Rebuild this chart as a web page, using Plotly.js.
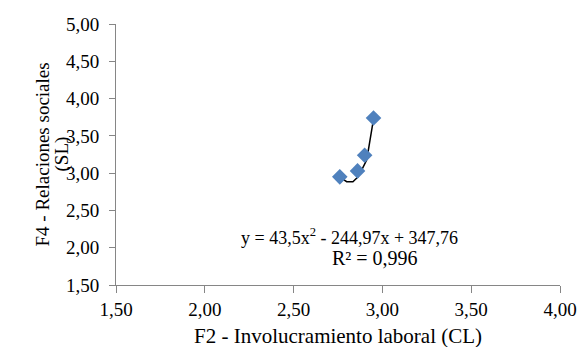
<!DOCTYPE html>
<html>
<head>
<meta charset="utf-8">
<script src="https://cdn.plot.ly/plotly-3.0.1.min.js"></script>
<style>html,body{margin:0;padding:0;background:#fff;}#chart{width:579px;height:347px;}</style>
</head>
<body>
<div id="chart"></div>
<script>
// Data points
var xValues = [2.76, 2.86, 2.90, 2.95];
var yValues = [2.95, 3.03, 3.24, 3.74];
// Polynomial trendline as drawn
var trendX = [2.771, 2.799, 2.834, 2.863, 2.883, 2.912, 2.930, 2.949];
var trendY = [2.93, 2.885, 2.885, 2.95, 3.04, 3.18, 3.44, 3.71];
var xTickVals = [1.5, 2.0, 2.5, 3.0, 3.5, 4.0];
var yTickVals = [1.5, 2.0, 2.5, 3.0, 3.5, 4.0, 4.5, 5.0];
var xTitle = "F2 - Involucramiento laboral (CL)";
var yTitleLines = ["F4 - Relaciones sociales", "(SL)"];
var eqText = "y = 43,5x<sup>2</sup> - 244,97x + 347,76";
var r2Text = "R² = 0,996";

var font = "Liberation Serif, Times New Roman, serif";
var axisColor = "#868686";
var tickSize = 19, xTitleSize = 21, yTitleSize = 19, eqSize = 18, r2Size = 20;

var traces = [
  {x: trendX, y: trendY, mode: "lines", type: "scatter",
   line: {color: "#000000", width: 1.5}, hoverinfo: "skip"},
  {x: xValues, y: yValues, mode: "markers", type: "scatter",
   marker: {symbol: "diamond", size: 12, color: "#4F81BD", line: {width: 0}}}
];

var layout = {
  width: 579, height: 347,
  margin: {l: 116, r: 19, t: 24, b: 62},
  paper_bgcolor: "#ffffff", plot_bgcolor: "#ffffff",
  showlegend: false,
  separators: ",.",
  font: {family: font, size: tickSize, color: "#000000"},
  xaxis: {
    range: [1.5, 4.0], tickvals: xTickVals, tickformat: ".2f",
    showgrid: false, zeroline: false, showline: true, linecolor: axisColor, linewidth: 1,
    ticks: "outside", ticklen: 7, tickcolor: axisColor, tickwidth: 1,
    ticklabelstandoff: 0,
    tickfont: {family: font, size: tickSize, color: "#000"}
  },
  yaxis: {
    range: [1.5, 5.0], tickvals: yTickVals, tickformat: ".2f",
    showgrid: false, zeroline: false, showline: true, linecolor: axisColor, linewidth: 1,
    ticks: "outside", ticklen: 6, tickcolor: axisColor, tickwidth: 1,
    ticklabelstandoff: 6,
    tickfont: {family: font, size: tickSize, color: "#000"}
  },
  annotations: [
    {xref: "paper", yref: "paper", x: 0.5, y: (285 - 336) / 261, xanchor: "center", yanchor: "middle",
     text: xTitle, showarrow: false, font: {family: font, size: xTitleSize, color: "#000"}},
    {xref: "paper", yref: "paper", x: (42 - 116) / 444, y: 0.5, xanchor: "center", yanchor: "middle",
     text: yTitleLines[0], textangle: -90, showarrow: false,
     font: {family: font, size: yTitleSize, color: "#000"}},
    {xref: "paper", yref: "paper", x: (61 - 116) / 444, y: 0.5, xanchor: "center", yanchor: "middle",
     text: yTitleLines[1], textangle: -90, showarrow: false,
     font: {family: font, size: yTitleSize, color: "#000"}},
    {xref: "paper", yref: "paper", x: (349 - 116) / 444, y: (285 - 236) / 261, xanchor: "center", yanchor: "middle",
     text: eqText, showarrow: false, font: {family: font, size: eqSize, color: "#000"}},
    {xref: "paper", yref: "paper", x: (375 - 116) / 444, y: (285 - 258) / 261, xanchor: "center", yanchor: "middle",
     text: r2Text, showarrow: false, font: {family: font, size: r2Size, color: "#000"}}
  ]
};

Plotly.newPlot("chart", traces, layout, {displayModeBar: false, staticPlot: true});
</script>
</body>
</html>
